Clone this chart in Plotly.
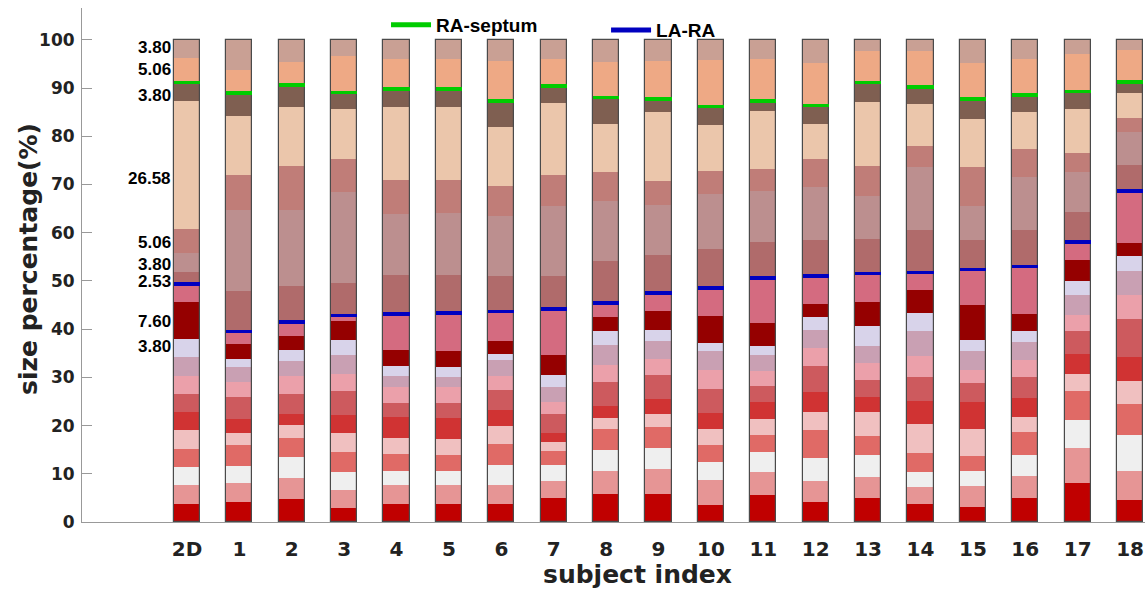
import numpy as np
import plotly.graph_objects as go

categories = ['2D'] + [str(i) for i in range(1, 19)]

# segment sizes (%) bottom -> top, one list per bar
bar_2D = [3.797, 3.797, 3.797, 3.797, 3.797, 3.797, 3.797, 3.797, 3.797, 3.797, 7.595, 3.797, 2.532, 3.797, 5.063, 26.582, 3.797, 5.063, 3.797]
bar_01 = [4.14, 3.94, 3.45, 4.36, 2.56, 2.97, 4.42, 3.18, 3.04, 1.73, 3.18, 2.49, 8.36, 16.93, 7.25, 12.24, 4.70, 4.84, 6.22]
bar_02 = [4.76, 4.36, 4.28, 4.01, 2.63, 2.35, 4.14, 3.66, 3.12, 2.41, 2.91, 2.83, 7.39, 15.90, 8.98, 12.44, 4.50, 4.83, 4.50]
bar_03 = [2.90, 3.66, 3.80, 4.15, 3.94, 3.80, 4.83, 3.60, 4.01, 2.97, 3.94, 1.24, 6.71, 18.86, 6.85, 10.36, 3.46, 7.60, 3.32]
bar_04 = [3.79, 3.81, 3.04, 3.45, 3.32, 4.28, 2.98, 3.31, 2.21, 2.08, 3.45, 7.40, 8.15, 12.65, 7.05, 15.20, 3.67, 6.15, 4.01]
bar_05 = [3.79, 3.81, 2.90, 3.45, 3.32, 4.29, 3.11, 3.24, 2.15, 2.07, 3.39, 7.81, 7.94, 12.79, 6.91, 15.20, 3.67, 6.15, 4.01]
bar_06 = [3.79, 3.94, 4.15, 4.35, 3.60, 3.45, 4.01, 3.04, 3.18, 1.38, 2.56, 6.15, 7.33, 12.44, 6.22, 12.30, 5.46, 8.36, 4.29]
bar_07 = [4.97, 3.59, 3.32, 2.77, 1.86, 1.94, 4.00, 2.35, 3.18, 2.42, 4.15, 9.60, 6.92, 14.37, 6.56, 14.87, 3.59, 5.53, 4.01]
bar_08 = [5.87, 4.77, 4.35, 4.29, 2.28, 2.55, 4.84, 3.66, 4.15, 2.76, 2.98, 2.90, 8.78, 12.30, 6.08, 9.95, 5.53, 7.26, 4.70]
bar_09 = [5.87, 5.18, 4.29, 4.28, 2.77, 3.11, 5.04, 3.32, 3.73, 2.14, 4.08, 3.66, 7.95, 10.37, 4.83, 14.31, 2.77, 8.01, 4.29]
bar_10 = [3.45, 5.18, 3.73, 3.53, 3.45, 3.25, 5.05, 3.80, 3.94, 1.73, 5.52, 5.88, 8.15, 11.41, 4.63, 9.54, 3.93, 9.68, 4.15]
bar_11 = [5.66, 4.70, 4.15, 3.45, 3.46, 3.45, 3.39, 2.97, 3.46, 1.86, 4.70, 9.33, 7.47, 10.50, 4.63, 11.96, 2.21, 8.71, 3.94]
bar_12 = [4.14, 4.42, 4.70, 5.88, 3.59, 4.15, 5.39, 3.80, 3.80, 2.56, 2.76, 5.81, 7.53, 10.85, 5.94, 7.26, 3.80, 8.78, 4.84]
bar_13 = [4.97, 4.35, 4.63, 3.94, 4.84, 3.18, 3.59, 3.46, 3.59, 4.01, 5.05, 5.87, 7.19, 8.84, 6.22, 13.34, 4.08, 6.57, 2.28]
bar_14 = [3.73, 3.52, 3.11, 3.94, 6.01, 4.84, 4.91, 4.28, 5.32, 3.67, 4.70, 3.77, 8.67, 13.06, 4.49, 8.71, 3.45, 7.54, 2.28]
bar_15 = [3.10, 4.29, 3.25, 3.11, 5.53, 5.59, 3.94, 2.63, 3.94, 2.28, 7.26, 7.39, 6.08, 7.19, 7.95, 10.09, 4.08, 7.46, 4.84]
bar_16 = [4.97, 4.63, 4.35, 4.63, 3.18, 3.94, 4.36, 3.59, 3.66, 2.35, 3.46, 9.88, 7.47, 11.05, 5.81, 7.60, 3.59, 7.54, 3.94]
bar_17 = [8.08, 7.26, 5.87, 5.87, 3.60, 4.21, 4.63, 3.46, 4.15, 2.76, 4.36, 3.80, 6.15, 8.29, 4.01, 9.12, 3.66, 7.75, 2.97]
bar_18 = [4.62, 5.88, 7.46, 6.50, 4.84, 4.83, 7.95, 5.05, 4.84, 3.10, 2.77, 10.78, 5.46, 6.77, 2.91, 5.18, 2.28, 6.57, 2.21]

segment_colors = ['#C00000', '#E69595', '#EFEFEF', '#E06A66', '#F0C0C0', '#D03333', '#CD5A5E',
                  '#EBA0AA', '#C9A0B3', '#D8D3EA', '#950000', '#D46B80', '#B06B6B', '#BC8F8F',
                  '#C07D78', '#EBC6AB', '#7F5F51', '#EEA985', '#C9A094']

# labels on the 2D bar
label_texts = ['3.80', '5.06', '3.80', '26.58', '5.06', '3.80', '2.53', '7.60', '3.80']
label_y = [98.5, 93.8, 88.4, 71.2, 57.9, 53.4, 49.9, 41.6, 36.4]

la_ra_index = 11      # boundary on top of this segment -> LA-RA
ra_septum_index = 16  # boundary on top of this segment -> RA-septum

table = np.array([bar_2D, bar_01, bar_02, bar_03, bar_04, bar_05, bar_06, bar_07, bar_08, bar_09,
                  bar_10, bar_11, bar_12, bar_13, bar_14, bar_15, bar_16, bar_17, bar_18])
cum = np.cumsum(table, axis=1)
base = cum - table
x = list(range(len(categories)))
W = 0.5

fig = go.Figure()
for j in range(table.shape[1]):
    fig.add_bar(x=x, y=table[:, j], base=base[:, j], width=W,
                marker=dict(color=segment_colors[j], line=dict(width=0)),
                showlegend=False, hoverinfo='skip')
# bar outline
fig.add_bar(x=x, y=cum[:, -1], base=[0] * len(x), width=W,
            marker=dict(color='rgba(0,0,0,0)', line=dict(color='#4a4a4a', width=1.2)),
            showlegend=False, hoverinfo='skip')
# boundary markers
fig.add_bar(x=x, y=[0.7] * len(x), base=cum[:, ra_septum_index] - 0.35, width=W,
            marker=dict(color='#00CC00', line=dict(width=0)), showlegend=False, hoverinfo='skip')
fig.add_bar(x=x, y=[0.7] * len(x), base=cum[:, la_ra_index] - 0.35, width=W,
            marker=dict(color='#0000C0', line=dict(width=0)), showlegend=False, hoverinfo='skip')

# legend entries
fig.add_trace(go.Scatter(x=[None], y=[None], mode='lines', name='RA-septum',
                         line=dict(color='#00CC00', width=5), legend='legend'))
fig.add_trace(go.Scatter(x=[None], y=[None], mode='lines', name='LA-RA',
                         line=dict(color='#0000C0', width=5), legend='legend2'))

for t, yv in zip(label_texts, label_y):
    fig.add_annotation(x=-W / 2, y=yv, xref='x', yref='y', text=t, showarrow=False,
                       xanchor='right', yanchor='middle', xshift=-1,
                       font=dict(family='Liberation Sans', size=17, color='black', weight='bold'))

axis_title_font = dict(family='DejaVu Sans', size=25, color='#222', weight='bold')
# x-axis title (the reference image is cropped on the right, so the title sits right of centre)
fig.add_annotation(x=0.523, y=0, xref='paper', yref='paper', text='subject index',
                   showarrow=False, xanchor='center', yanchor='middle', yshift=-52,
                   font=axis_title_font)
# y-axis title
fig.add_annotation(x=0, y=0.5, xref='paper', yref='paper', text='size percentage(%)',
                   showarrow=False, xanchor='center', yanchor='middle', textangle=-90,
                   xshift=-54, yshift=6, font=axis_title_font)

legend_font = dict(family='Liberation Sans', size=19, color='black', weight='bold')
fig.update_layout(
    width=1145, height=590,
    margin=dict(l=82, r=0, t=8, b=68, autoexpand=False),
    paper_bgcolor='white', plot_bgcolor='white',
    barmode='overlay', bargap=0,
    legend=dict(x=0.286, y=1.004, xanchor='left', yanchor='top', bgcolor='rgba(0,0,0,0)',
                font=legend_font, orientation='h', itemwidth=40),
    legend2=dict(x=0.493, y=0.994, xanchor='left', yanchor='top', bgcolor='rgba(0,0,0,0)',
                 font=legend_font, orientation='h', itemwidth=40),
    xaxis=dict(tickmode='array', tickvals=x, ticktext=categories, range=[-2.004, 18.285],
               showline=True, linecolor='#999999', linewidth=1, ticks='', showgrid=False,
               zeroline=False, ticklabelstandoff=9, automargin=False,
               tickfont=dict(family='DejaVu Sans', size=20, color='#222', weight='bold')),
    yaxis=dict(range=[0, 106.6], tickmode='array', tickvals=list(range(0, 101, 10)),
               showline=True, linecolor='#999999', linewidth=1, ticks='inside', ticklen=10,
               tickcolor='#999999', showgrid=False, zeroline=False, ticklabelstandoff=3,
               automargin=False,
               tickfont=dict(family='DejaVu Sans', size=17, color='#222', weight='bold')),
)

fig.write_html('out.html', config={'displayModeBar': False},
               post_script="document.body.style.margin='0';document.body.style.overflow='hidden';")
